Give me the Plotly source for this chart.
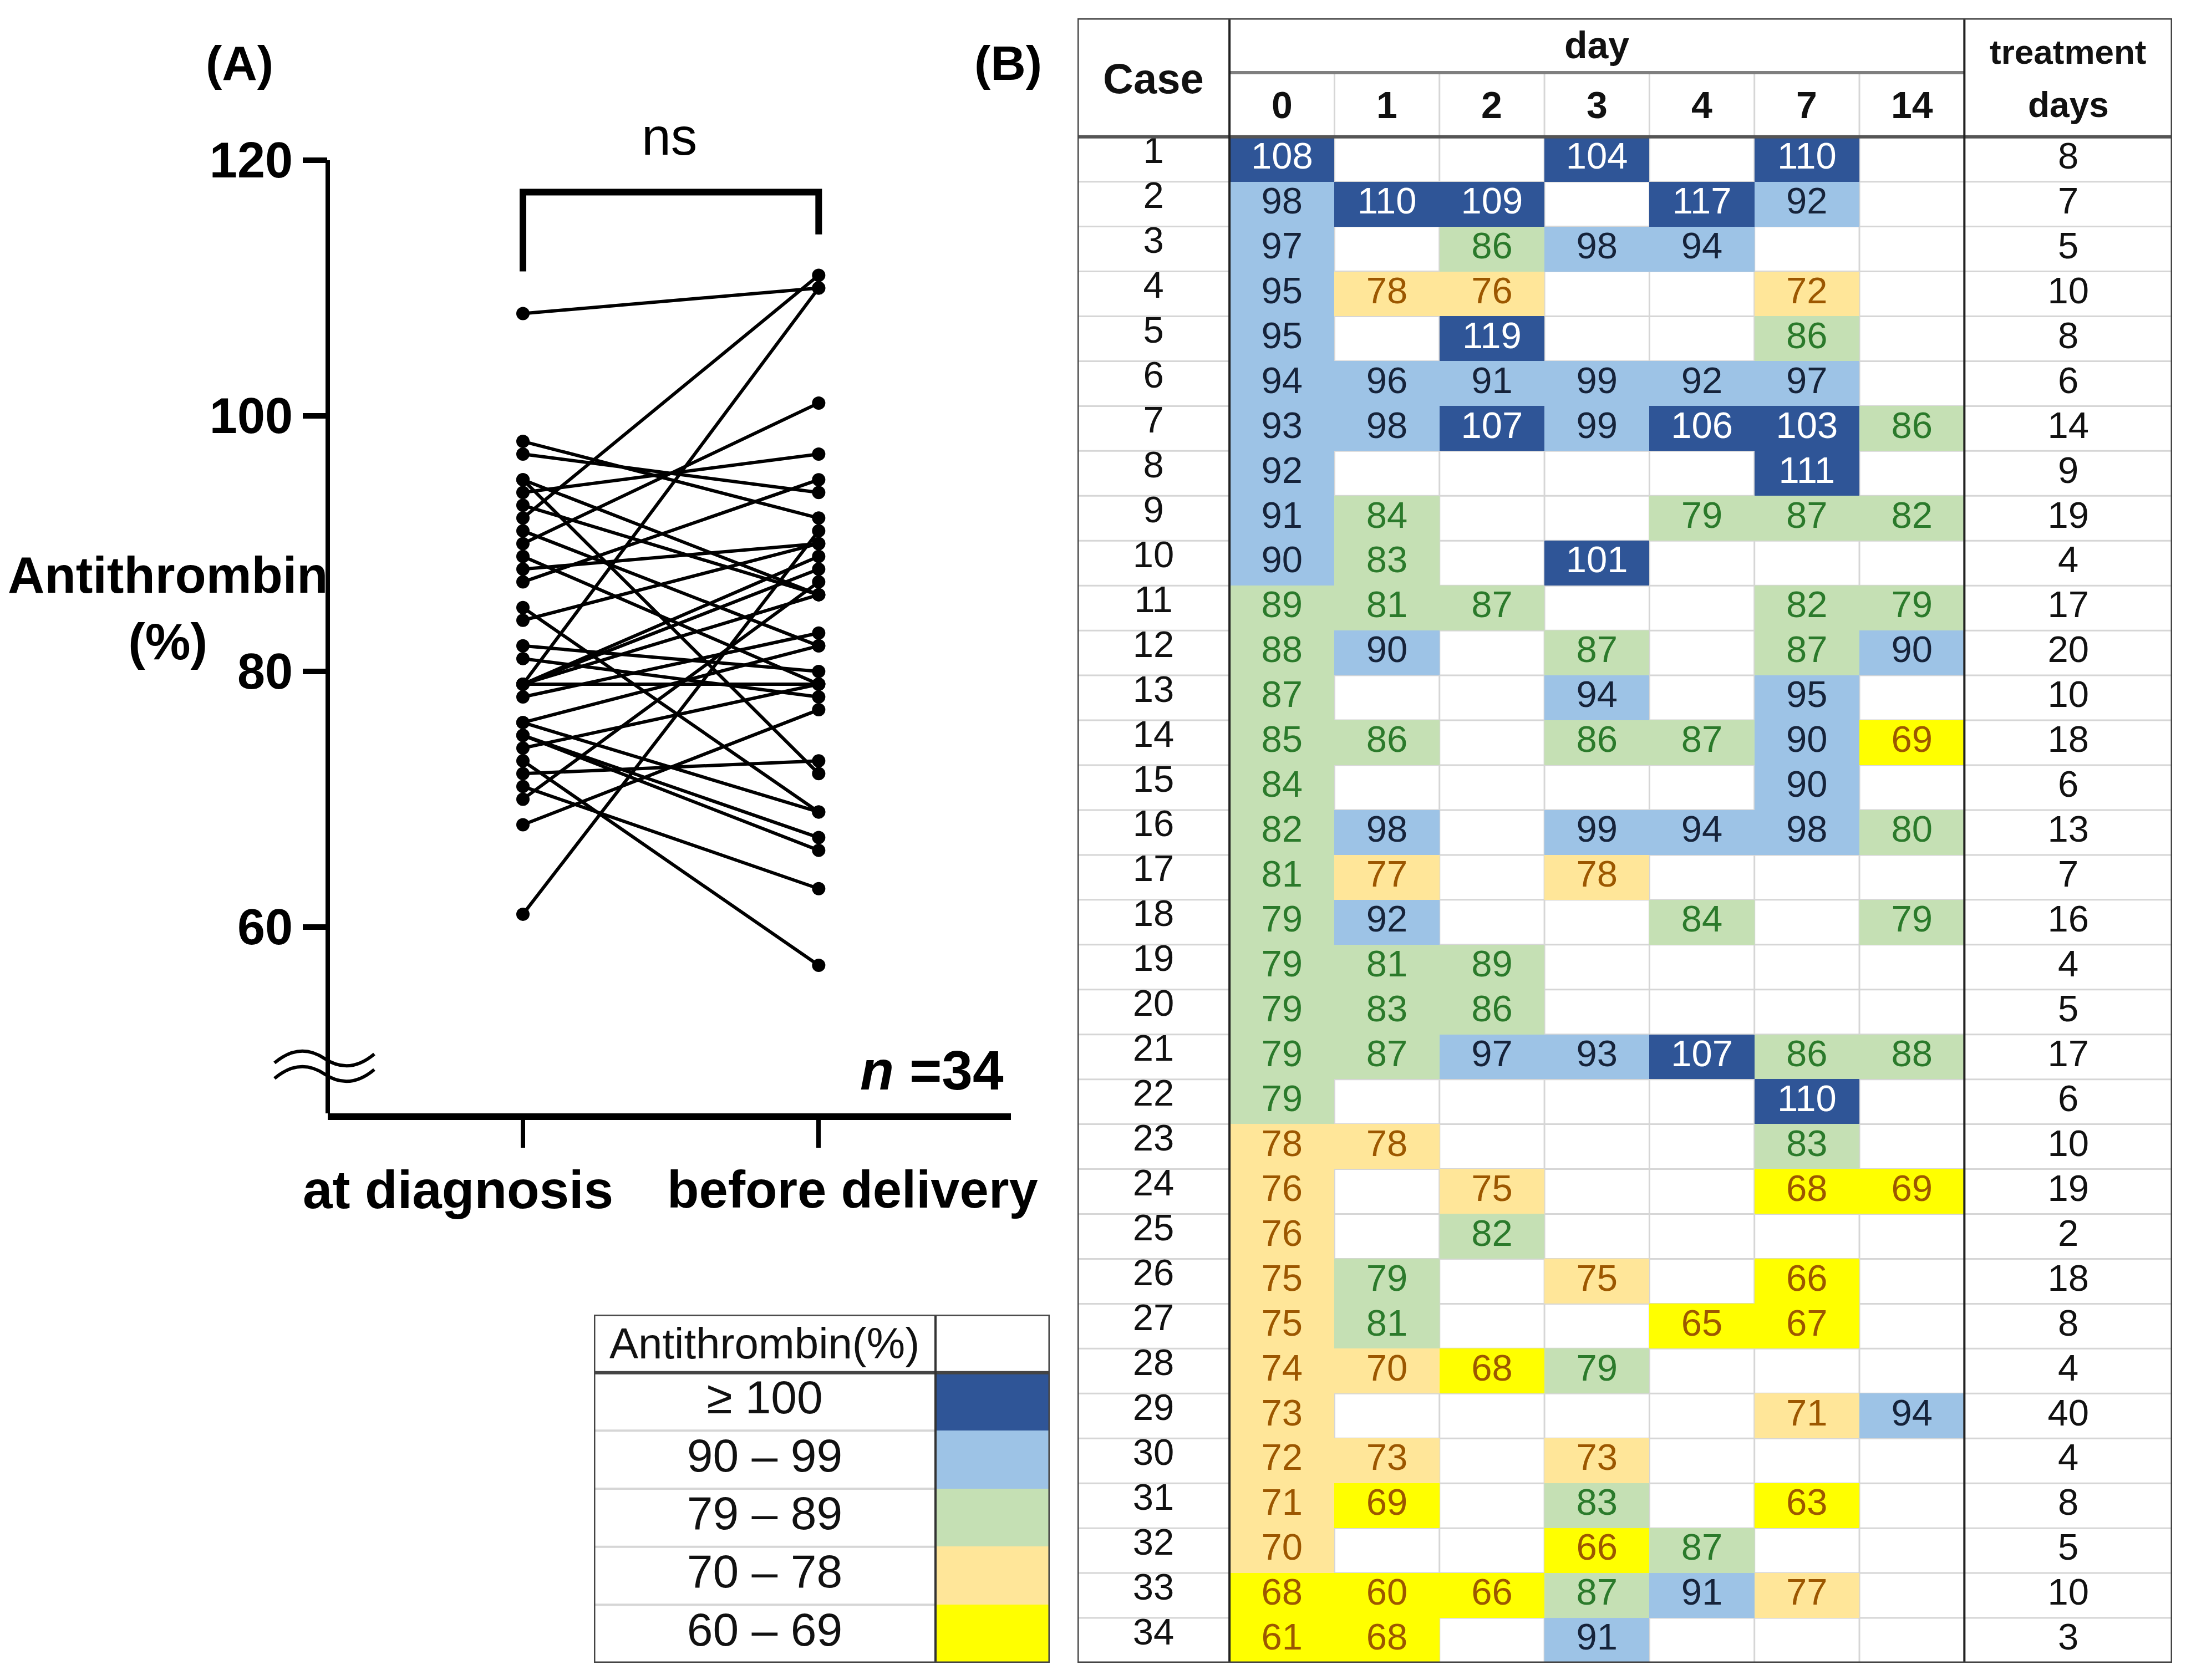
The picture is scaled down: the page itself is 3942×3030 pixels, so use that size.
import plotly.graph_objects as go

# ---------------- data ----------------
cases = list(range(1, 35))
day_labels = ["0", "1", "2", "3", "4", "7", "14"]
day0 = [108, 98, 97, 95, 95, 94, 93, 92, 91, 90, 89, 88, 87, 85, 84, 82, 81, 79, 79, 79,
        79, 79, 78, 76, 76, 75, 75, 74, 73, 72, 71, 70, 68, 61]
day1 = [None, 110, None, 78, None, 96, 98, None, 84, 83, 81, 90, None, 86, None, 98, 77, 92, 81, 83,
        87, None, 78, None, None, 79, 81, 70, None, 73, 69, None, 60, 68]
day2 = [None, 109, 86, 76, 119, 91, 107, None, None, None, 87, None, None, None, None, None, None, None, 89, 86,
        97, None, None, 75, 82, None, None, 68, None, None, None, None, 66, None]
day3 = [104, None, 98, None, None, 99, 99, None, None, 101, None, 87, 94, 86, None, 99, 78, None, None, None,
        93, None, None, None, None, 75, None, 79, None, 73, 83, 66, 87, 91]
day4 = [None, 117, 94, None, None, 92, 106, None, 79, None, None, None, None, 87, None, 94, None, 84, None, None,
        107, None, None, None, None, None, 65, None, None, None, None, 87, 91, None]
day7 = [110, 92, None, 72, 86, 97, 103, 111, 87, None, 82, 87, 95, 90, 90, 98, None, None, None, None,
        86, 110, 83, 68, None, 66, 67, None, 71, None, 63, None, 77, None]
day14 = [None, None, None, None, None, None, 86, None, 82, None, 79, 90, None, 69, None, 80, None, 79, None, None,
         88, None, None, 69, None, None, None, None, 94, None, None, None, None, None]
treatment_days = [8, 7, 5, 10, 8, 6, 14, 9, 19, 4, 17, 20, 10, 18, 6, 13, 7, 16, 4, 5,
                  17, 6, 10, 19, 2, 18, 8, 4, 40, 4, 8, 5, 10, 3]

at_diagnosis = day0
before_delivery = [110, 92, 94, 72, 86, 97, 86, 111, 82, 101, 79, 90, 95, 69, 90, 80, 78, 79, 89, 86,
                   88, 110, 83, 69, 82, 66, 67, 79, 57, 73, 63, 87, 77, 91]

group_labels = ["at diagnosis", "before delivery"]
y_ticks = [60, 80, 100, 120]

class_lower = [100, 90, 79, 70, 60]
class_labels = ["≥ 100", "90 – 99", "79 – 89", "70 – 78", "60 – 69"]

# ---------------- styles ----------------
FILL = ["#2F5597", "#9DC3E6", "#C5E0B4", "#FFE699", "#FFFF00"]
TXT = ["#FFFFFF", "#16233A", "#2B7A2B", "#9C5700", "#9C5700"]
NARROW = "Liberation Sans Narrow, Arial Narrow, Liberation Sans, Arial, sans-serif"

W, H, OFF = 3926, 3014, 8


def px(X):
    return (X - OFF) / W


def py(Y):
    return 1 - (Y - OFF) / H


def cls(v):
    for i, lo in enumerate(class_lower):
        if v >= lo:
            return i
    return len(class_lower) - 1


fig = go.Figure()

# ---------------- panel A ----------------
xs, ys = [], []
for a, b in zip(at_diagnosis, before_delivery):
    xs += [0, 1, None]
    ys += [a, b, None]
fig.add_trace(go.Scatter(x=xs, y=ys, mode="lines+markers", xaxis="x", yaxis="y",
                         line=dict(color="black", width=6),
                         marker=dict(color="black", size=24),
                         hoverinfo="skip", showlegend=False))

# ---------------- panel B table ----------------
columns = [day0, day1, day2, day3, day4, day7, day14]
z = []
tx, ty, tt, tc = [], [], [], []
for r in range(len(cases)):
    row = []
    for c, col in enumerate(columns):
        v = col[r]
        if v is None:
            row.append(None)
        else:
            k = cls(v)
            row.append(k)
            tx.append(c + 0.5)
            ty.append(cases[r])
            tt.append(str(v))
            tc.append(TXT[k])
    z.append(row)

n_cls = len(class_lower)
cscale = []
for i, col in enumerate(FILL):
    cscale.append([i / n_cls, col])
    cscale.append([(i + 1) / n_cls, col])

x_edges = list(range(len(day_labels) + 1))
y_edges = [c - 0.5 for c in cases] + [cases[-1] + 0.5]
fig.add_trace(go.Heatmap(z=z, x=x_edges, y=y_edges, xaxis="x2", yaxis="y2",
                         colorscale=cscale, zmin=-0.5, zmax=n_cls - 0.5,
                         showscale=False, hoverinfo="skip"))
fig.add_trace(go.Scatter(x=tx, y=ty, text=tt, mode="text", xaxis="x2", yaxis="y2",
                         textfont=dict(family=NARROW, size=67, color=tc),
                         cliponaxis=False, hoverinfo="skip", showlegend=False))

CASE_X = -1.448 / 2
TREAT_X = 7 + 1.979 / 2
fig.add_trace(go.Scatter(x=[CASE_X] * len(cases), y=[c - 0.12 for c in cases],
                         text=[str(c) for c in cases], mode="text", xaxis="x2", yaxis="y2",
                         textfont=dict(family=NARROW, size=67, color="#111111"),
                         cliponaxis=False, hoverinfo="skip", showlegend=False))
fig.add_trace(go.Scatter(x=[TREAT_X] * len(cases), y=cases,
                         text=[str(t) for t in treatment_days], mode="text", xaxis="x2", yaxis="y2",
                         textfont=dict(family=NARROW, size=67, color="#111111"),
                         cliponaxis=False, hoverinfo="skip", showlegend=False))

# ---------------- legend table ----------------
fig.add_trace(go.Heatmap(z=[[i] for i in range(n_cls)], x=[0, 1],
                         y=[i + 0.5 for i in range(n_cls + 1)], xaxis="x3", yaxis="y3",
                         colorscale=cscale, zmin=-0.5, zmax=n_cls - 0.5,
                         showscale=False, hoverinfo="skip"))
fig.add_trace(go.Scatter(x=[-1.495] * n_cls, y=list(range(1, n_cls + 1)), text=class_labels,
                         mode="text", xaxis="x3", yaxis="y3",
                         textfont=dict(family=NARROW, size=84, color="#111111"),
                         cliponaxis=False, hoverinfo="skip", showlegend=False))

# ---------------- shapes ----------------
shapes = []
# panel A y axis line (ends at 120) and significance bracket
shapes.append(dict(type="line", xref="x domain", yref="y", x0=0, x1=0, y0=45.42, y1=120,
                   line=dict(color="black", width=8)))
shapes.append(dict(type="path", xref="x", yref="y",
                   path="M 0,111.3 L 0,117.5 L 1,117.5 L 1,114.2",
                   line=dict(color="black", width=12)))
# axis break mark
for yc in (1909, 1937):
    p = (f"M {px(495)},{py(yc + 8)} Q {px(540)},{py(yc - 30)} {px(585)},{py(yc)} "
         f"T {px(675)},{py(yc - 8)}")
    shapes.append(dict(type="path", xref="paper", yref="paper", path=p,
                       line=dict(color="black", width=6)))

LG = "#D6D6D6"
XL, XR = -1.448, 8.979
YT, YB = -2.14, 34.5
YDAY = -0.93
for r in cases[:-1]:
    shapes.append(dict(type="line", xref="x2", yref="y2", x0=XL, x1=XR, y0=r + 0.5, y1=r + 0.5,
                       line=dict(color=LG, width=3), layer="below"))
for c in range(1, len(day_labels)):
    shapes.append(dict(type="line", xref="x2", yref="y2", x0=c, x1=c, y0=YDAY, y1=YB,
                       line=dict(color=LG, width=3), layer="below"))
shapes.append(dict(type="line", xref="x2", yref="y2", x0=0, x1=len(day_labels), y0=YDAY, y1=YDAY,
                   line=dict(color="#7F7F7F", width=6)))
shapes.append(dict(type="line", xref="x2", yref="y2", x0=XL, x1=XR, y0=0.5, y1=0.5,
                   line=dict(color="#555555", width=6)))
for xv in (0, len(day_labels)):
    shapes.append(dict(type="line", xref="x2", yref="y2", x0=xv, x1=xv, y0=YT, y1=YB,
                       line=dict(color="#222222", width=4)))
shapes.append(dict(type="rect", xref="x2", yref="y2", x0=XL, x1=XR, y0=YT, y1=YB,
                   line=dict(color="#444444", width=5)))

# legend grid
for r in range(1, n_cls):
    shapes.append(dict(type="line", xref="x3", yref="y3", x0=-2.99, x1=0, y0=r + 0.5, y1=r + 0.5,
                       line=dict(color=LG, width=4), layer="below"))
shapes.append(dict(type="line", xref="x3", yref="y3", x0=-2.99, x1=1, y0=0.5, y1=0.5,
                   line=dict(color="#444444", width=6)))
shapes.append(dict(type="line", xref="x3", yref="y3", x0=0, x1=0, y0=-0.5, y1=5.5,
                   line=dict(color="#333333", width=4)))
shapes.append(dict(type="rect", xref="x3", yref="y3", x0=-2.99, x1=1, y0=-0.5, y1=5.5,
                   line=dict(color="#444444", width=5)))

# ---------------- annotations ----------------
ann = []


def pa(text, X, Y, size, bold=True, xanchor="center", family=NARROW):
    ann.append(dict(text=f"<b>{text}</b>" if bold else text, x=px(X), y=py(Y),
                    xref="paper", yref="paper", showarrow=False, xanchor=xanchor,
                    yanchor="middle", font=dict(family=family, size=size, color="black"),
                    align="center"))


pa("(A)", 432, 113, 88)
pa("(B)", 1818, 113, 88)
pa("ns", 1207, 246, 95, bold=False)
pa("Antithrombin<br>(%)", 302, 1097, 92)
pa(group_labels[0], 826, 2145, 96)
pa(group_labels[1], 1537, 2145, 94)
pa("<i>n</i> =34", 1812, 1930, 100, xanchor="right")


def ta(text, x, y, size, ref="2"):
    ann.append(dict(text=text, x=x, y=y, xref="x" + ref, yref="y" + ref, showarrow=False,
                    xanchor="center", yanchor="middle",
                    font=dict(family=NARROW, size=size, color="#111111")))


ta("<b>Case</b>", CASE_X, -0.80, 76)
ta("<b>day</b>", len(day_labels) / 2, -1.55, 68)
for i, d in enumerate(day_labels):
    ta(f"<b>{d}</b>", i + 0.5, -0.21, 68)
ta("<b>treatment</b>", TREAT_X, -1.39, 62)
ta("<b>days</b>", TREAT_X, -0.21, 64)
ta("Antithrombin(%)", -1.495, 0, 78, ref="3")

hidden = dict(visible=False, fixedrange=True)
fig.update_layout(
    width=W, height=H, margin=dict(l=0, r=0, t=0, b=0),
    paper_bgcolor="white", plot_bgcolor="white", showlegend=False,
    xaxis=dict(domain=[px(591), px(1823)], range=[-0.66, 1.65], anchor="y",
               showline=True, linewidth=12, linecolor="black", mirror=False,
               ticks="outside", tickvals=[0, 1], ticklen=50, tickwidth=8, tickcolor="black",
               showticklabels=False, showgrid=False, zeroline=False),
    yaxis=dict(domain=[py(2008), py(105)], range=[45.42, 127.98], anchor="x",
               showline=False, ticks="outside", tickvals=y_ticks, ticklen=44, tickwidth=10,
               tickcolor="black", tickfont=dict(family=NARROW, size=90, color="black", weight="bold"),
               showgrid=False, zeroline=False),
    xaxis2=dict(domain=[px(1943), px(3917)], range=[XL, XR], anchor="y2", **hidden),
    yaxis2=dict(domain=[py(2999), py(33)], range=[YB, YT], anchor="x2", **hidden),
    xaxis3=dict(domain=[px(1071), px(1893)], range=[-2.99, 1], anchor="y3", **hidden),
    yaxis3=dict(domain=[py(2999), py(2371)], range=[5.5, -0.5], anchor="x3", **hidden),
    shapes=shapes, annotations=ann,
)

fig.write_html("out.html")
